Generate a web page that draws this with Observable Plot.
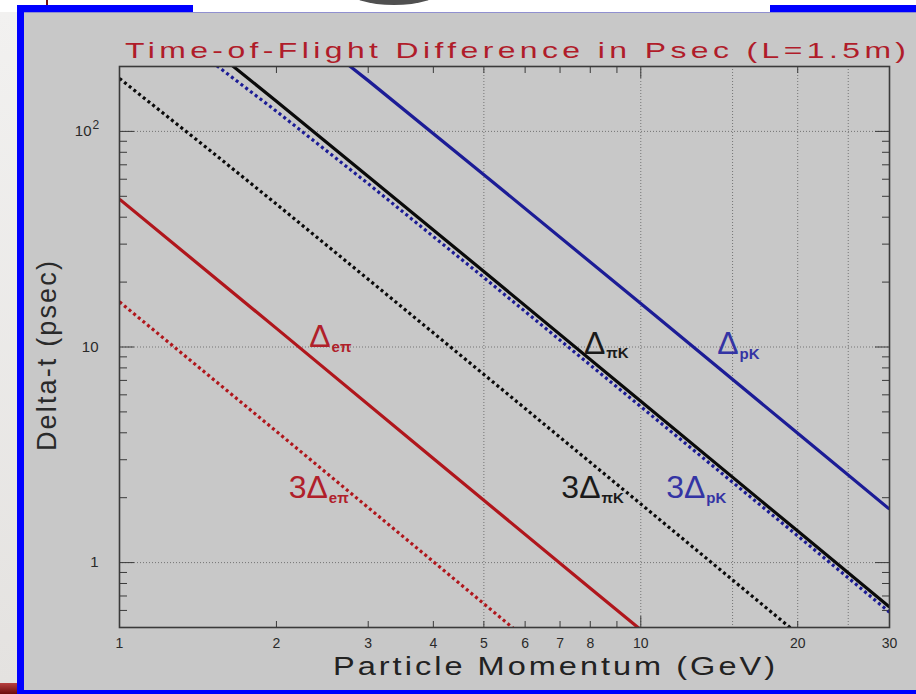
<!DOCTYPE html>
<html><head><meta charset="utf-8">
<script src="https://cdn.jsdelivr.net/npm/d3@7"></script>
<script src="https://cdn.jsdelivr.net/npm/@observablehq/plot@0.6"></script>
<style>
html,body{margin:0;padding:0;}
body{width:916px;height:694px;position:relative;overflow:hidden;background:#fff;font-family:"Liberation Sans",Arial,sans-serif;}
.abs{position:absolute;}
.txt{position:absolute;white-space:nowrap;transform-origin:0 0;z-index:3;}
#chart{position:absolute;left:0;top:0;z-index:2;}
</style></head><body>
<div class="abs" style="left:0;top:12px;width:17px;height:671px;background:linear-gradient(#f2f1f0,#e4e2e0);"></div>
<div class="abs" style="left:0;top:683px;width:17px;height:11px;background:linear-gradient(#b84040,#6a0c0c);"></div>
<div class="abs" style="left:46px;top:0;width:2px;height:12px;background:#7a1010;"></div>
<div class="abs" style="left:17px;top:5px;width:176px;height:7px;background:#0000ff;"></div>
<div class="abs" style="left:770px;top:5px;width:146px;height:7px;background:#0000ff;"></div>
<div class="abs" style="left:348px;top:-24px;width:92px;height:29px;border-radius:50%;background:#505050;"></div>
<div class="abs" style="left:17px;top:12px;width:7px;height:682px;background:#0000ff;"></div>
<div class="abs" style="left:24px;top:12px;width:892px;height:678px;background:#c8c8c8;border-top:1px solid #9090d0;box-sizing:border-box;"></div>
<div class="abs" style="left:17px;top:690px;width:899px;height:4px;background:#0000ff;"></div>
<div id="chart"></div>
<div id="title" class="txt" style="font-size:22px;line-height:16px;color:#b01c2a;">Time-of-Flight Difference in Psec (L=1.5m)</div>
<div id="xlabel" class="txt" style="font-size:25px;line-height:14px;color:#222;">Particle Momentum (GeV)</div>
<div id="ylabel" class="txt" style="font-size:27px;line-height:22px;color:#2a2a2a;transform-origin:50% 50%;">Delta-t (psec)</div>
<script>
// ---- data ----
const momentumTicks = [1, 2, 3, 4, 5, 6, 7, 8, 9, 10, 20, 30];
const momentumMajorTicks = [1, 10];
const momentumMinorTicks = [2, 3, 4, 5, 6, 7, 8, 9, 20, 30];
const momentumGrid = [5, 10, 15, 20, 25];
const deltaTickLabels = [1, 10];
const deltaTopLabel = [100];
const deltaMajorTicks = [1, 10, 100];
const deltaMinorTicks = [0.6, 0.7, 0.8, 0.9, 2, 3, 4, 5, 6, 7, 8, 9, 20, 30, 40, 50, 60, 70, 80, 90];
const deltaGrid = [1, 10, 100];

// Δ e-π
const momentumEPi = [1, 2, 4, 8, 12];
const deltaEPi = [48.5, 12.2, 3.04, 0.76, 0.34];
const deltaEPi3 = [16.2, 4.06, 1.01, 0.25, 0.113];
// Δ π-K
const momentumPiK = [1, 1.5, 2, 3, 5, 10, 20, 30];
const deltaPiK = [528, 242, 138, 61.8, 22.4, 5.6, 1.4, 0.622];
const deltaPiK3 = [176, 80.7, 46.0, 20.6, 7.46, 1.87, 0.467, 0.207];
// Δ p-K
const momentumPK = [1, 1.5, 2, 3, 5, 10, 20, 30];
const deltaPK = [1280, 634, 373, 172, 63.0, 15.9, 3.98, 1.77];
const deltaPK3 = [427, 211, 124, 57.2, 21.0, 5.29, 1.33, 0.589];

// curve labels
const labelMain = ["Δ", "Δ", "Δ", "3Δ", "3Δ", "3Δ"];
const labelSub = ["eπ", "πK", "pK", "eπ", "πK", "pK"];
const labelMomentum = [2.54, 8.55, 15.4, 2.51, 8.37, 13.3];
const labelDelta = [11.1, 10.4, 10.3, 2.22, 2.22, 2.22];
const labelColor = ["#b0202a", "#1a1a1a", "#3434a4", "#b0202a", "#1a1a1a", "#3434a4"];

// ---- build ----
const rows = (ps, ds) => ps.map((p, i) => ({p, dt: ds[i]}));
const labelRows = labelMain.map((m, i) => ({main: m, sub: labelSub[i], p: labelMomentum[i], dt: labelDelta[i], color: labelColor[i]}));

const RED = "#b0161c", BLUE = "#1c1c96", BLACK = "#0a0a0a";
const solid = {x: "p", y: "dt", strokeWidth: 3.2, strokeLinecap: "butt", clip: true};
const dotted = {x: "p", y: "dt", strokeWidth: 3.2, strokeLinecap: "butt", strokeDasharray: "3,3", clip: true};
const tickStroke = "#3a3a3a";

const chart = Plot.plot({
  width: 916, height: 694,
  marginLeft: 119, marginRight: 27, marginTop: 66, marginBottom: 67,
  style: {background: "transparent", fontFamily: "Liberation Sans, Arial, sans-serif", overflow: "visible"},
  x: {type: "log", domain: [1, 30]},
  y: {type: "log", domain: [0.5, 200]},
  color: {type: "identity"},
  marks: [
    Plot.gridX(momentumGrid, {stroke: "#6a6a6a", strokeOpacity: 0.9, strokeDasharray: "1,2"}),
    Plot.gridY(deltaGrid, {stroke: "#6a6a6a", strokeOpacity: 0.9, strokeDasharray: "1,2"}),
    // ticks pointing inward
    Plot.axisX({ticks: momentumMajorTicks, anchor: "bottom", tickSize: 11, dy: -11, fill: "none", stroke: tickStroke, label: null}),
    Plot.axisX({ticks: momentumMinorTicks, anchor: "bottom", tickSize: 6, dy: -6, fill: "none", stroke: tickStroke, label: null}),
    Plot.axisX({ticks: momentumMajorTicks, anchor: "top", tickSize: 11, dy: 11, fill: "none", stroke: tickStroke, label: null}),
    Plot.axisX({ticks: momentumMinorTicks, anchor: "top", tickSize: 6, dy: 6, fill: "none", stroke: tickStroke, label: null}),
    Plot.axisY({ticks: deltaMajorTicks, anchor: "left", tickSize: 15, dx: 15, fill: "none", stroke: tickStroke, label: null}),
    Plot.axisY({ticks: deltaMinorTicks, anchor: "left", tickSize: 8, dx: 8, fill: "none", stroke: tickStroke, label: null}),
    Plot.axisY({ticks: deltaMajorTicks, anchor: "right", tickSize: 15, dx: -15, fill: "none", stroke: tickStroke, label: null}),
    Plot.axisY({ticks: deltaMinorTicks, anchor: "right", tickSize: 8, dx: -8, fill: "none", stroke: tickStroke, label: null}),
    // tick labels
    Plot.axisX({ticks: momentumTicks, anchor: "bottom", tickSize: 0, tickPadding: 11, tickFormat: d => String(d), fontSize: 14, fill: "#2a2a2a", label: null}),
    Plot.axisY({ticks: deltaTickLabels, anchor: "left", tickSize: 0, tickPadding: 21, tickFormat: d => String(d), fontSize: 15, fill: "#2a2a2a", label: null}),
    Plot.axisY({ticks: deltaTopLabel, anchor: "left", tickSize: 0, tickPadding: 28, tickFormat: () => "10", fontSize: 15, fill: "#2a2a2a", label: null}),
    Plot.text(deltaTopLabel, {y: d => d, frameAnchor: "left", text: () => "2", dx: -27, dy: -6, textAnchor: "start", fontSize: 12, fill: "#2a2a2a"}),
    // curves
    Plot.line(rows(momentumEPi, deltaEPi3), {...dotted, stroke: RED}),
    Plot.line(rows(momentumEPi, deltaEPi), {...solid, stroke: RED}),
    Plot.line(rows(momentumPiK, deltaPiK3), {...dotted, stroke: BLACK}),
    Plot.line(rows(momentumPK, deltaPK3), {...dotted, stroke: BLUE}),
    Plot.line(rows(momentumPiK, deltaPiK), {...solid, stroke: BLACK}),
    Plot.line(rows(momentumPK, deltaPK), {...solid, stroke: BLUE}),
    // labels
    Plot.text(labelRows, {x: "p", y: "dt", text: "main", fill: "color", textAnchor: "end", fontSize: 32}),
    Plot.text(labelRows, {x: "p", y: "dt", text: "sub", fill: "color", textAnchor: "start", fontSize: 15, fontWeight: "bold", dy: 10, dx: 1}),
    Plot.frame({stroke: "#3a3a3a", strokeWidth: 1.6})
  ]
});
document.getElementById("chart").append(chart);

function fit(el, left, right, scale) {
  el.style.letterSpacing = "0px";
  el.style.transform = "none";
  const w0 = el.getBoundingClientRect().width;
  const n = el.textContent.length;
  const ls = ((right - left) / scale - w0) / (n - 1);
  el.style.letterSpacing = ls + "px";
  el.style.left = left + "px";
  el.style.transform = `scaleX(${scale})`;
}
// baseline offset for a line box: (L - 1.117*fs)/2 + 0.905*fs
const baseOff = (fs, L) => (L - 1.117 * fs) / 2 + 0.905 * fs;
const title = document.getElementById("title");
fit(title, 125, 906, 1.45);
title.style.top = (59 - baseOff(22, 16)) + "px";
const xl = document.getElementById("xlabel");
fit(xl, 333, 775, 1.3);
xl.style.top = (675 - baseOff(25, 14)) + "px";
const yl = document.getElementById("ylabel");
yl.style.letterSpacing = "0px";
const w0 = yl.getBoundingClientRect().width;
const n = yl.textContent.length;
yl.style.letterSpacing = ((190 - w0) / (n - 1)) + "px";
const W = yl.getBoundingClientRect().width;
yl.style.left = (47 - W / 2) + "px";
yl.style.top = (355 - 11) + "px";
yl.style.transform = "rotate(-90deg)";
</script>
</body></html>
